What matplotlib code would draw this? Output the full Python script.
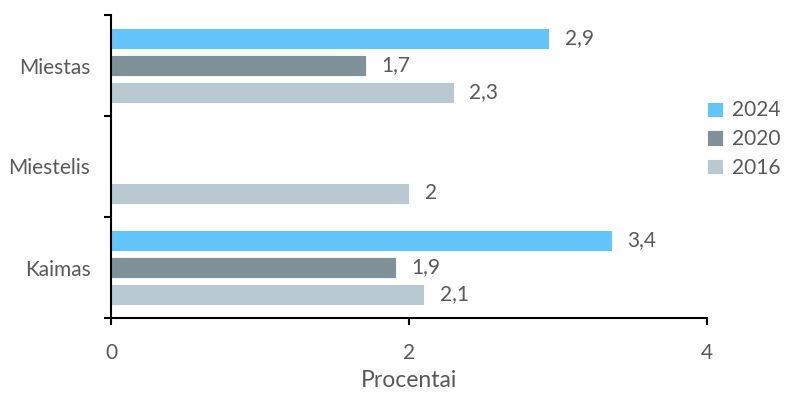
import numpy as np
import matplotlib
matplotlib.use("Agg")
import matplotlib.pyplot as plt

categories = ["Miestas", "Miestelis", "Kaimas"]
years = ["2024", "2020", "2016"]
values_2024 = [2.94, np.nan, 3.36]
values_2020 = [1.71, np.nan, 1.91]
values_2016 = [2.30, 2.0, 2.10]
x_ticks = [0, 2, 4]
x_label = "Procentai"

colors = ["#63C5F9", "#7F929A", "#B8C9D1"]
series = [values_2024, values_2020, values_2016]

plt.rcParams['font.family'] = ['Lato', 'DejaVu Sans']
txt = "#595959"
fs = 15

fig = plt.figure(figsize=(7.89, 3.94), dpi=100)
ax = fig.add_axes([111.3/789, 1 - 318/394, (707 - 111.3)/789, (318 - 15)/394])

y = np.arange(len(categories))
step = 0.267
h = 0.208
offsets = [-step, 0, step]

def fmt(v):
    s = f"{v:.1f}".rstrip('0').rstrip('.')
    return s.replace('.', ',')

for vals, col, off, yr in zip(series, colors, offsets, years):
    ax.barh(y + off, vals, height=h, color=col, edgecolor='white', linewidth=0.6, label=yr)
    for yi, v in zip(y + off, vals):
        if not np.isnan(v):
            ax.text(v + 0.105, yi, fmt(v), va='center', ha='left', fontsize=fs, color=txt)

ax.set_xlim(0, 4)
ax.set_ylim(2.5, -0.5)
ax.set_xticks(x_ticks)
ax.set_xticklabels([str(t) for t in x_ticks], fontsize=fs, color=txt)
ax.set_yticks([-0.5, 0.5, 1.5, 2.5])
ax.set_yticklabels([])
ax.set_yticks(y, minor=True)
ax.set_yticklabels(categories, minor=True, fontsize=fs, color=txt)
ax.tick_params(axis='y', which='minor', length=0, pad=15)
ax.tick_params(axis='y', which='major', length=5, width=1.5, direction='out')
ax.tick_params(axis='x', length=5, width=1.5, direction='out', pad=13)
for s in ['top', 'right']:
    ax.spines[s].set_visible(False)
ax.spines['left'].set_linewidth(1.5)
ax.spines['bottom'].set_linewidth(1.5)
ax.set_xlabel(x_label, fontsize=16.5, color=txt, labelpad=5)

ax.legend(loc='center left', bbox_to_anchor=(1.0, 0.59), frameon=False,
          fontsize=fs, handlelength=0.75, handleheight=0.75, handletextpad=0.45,
          labelspacing=0.42, labelcolor=txt, borderaxespad=0, borderpad=0)

fig.savefig("out.png", dpi=100)
